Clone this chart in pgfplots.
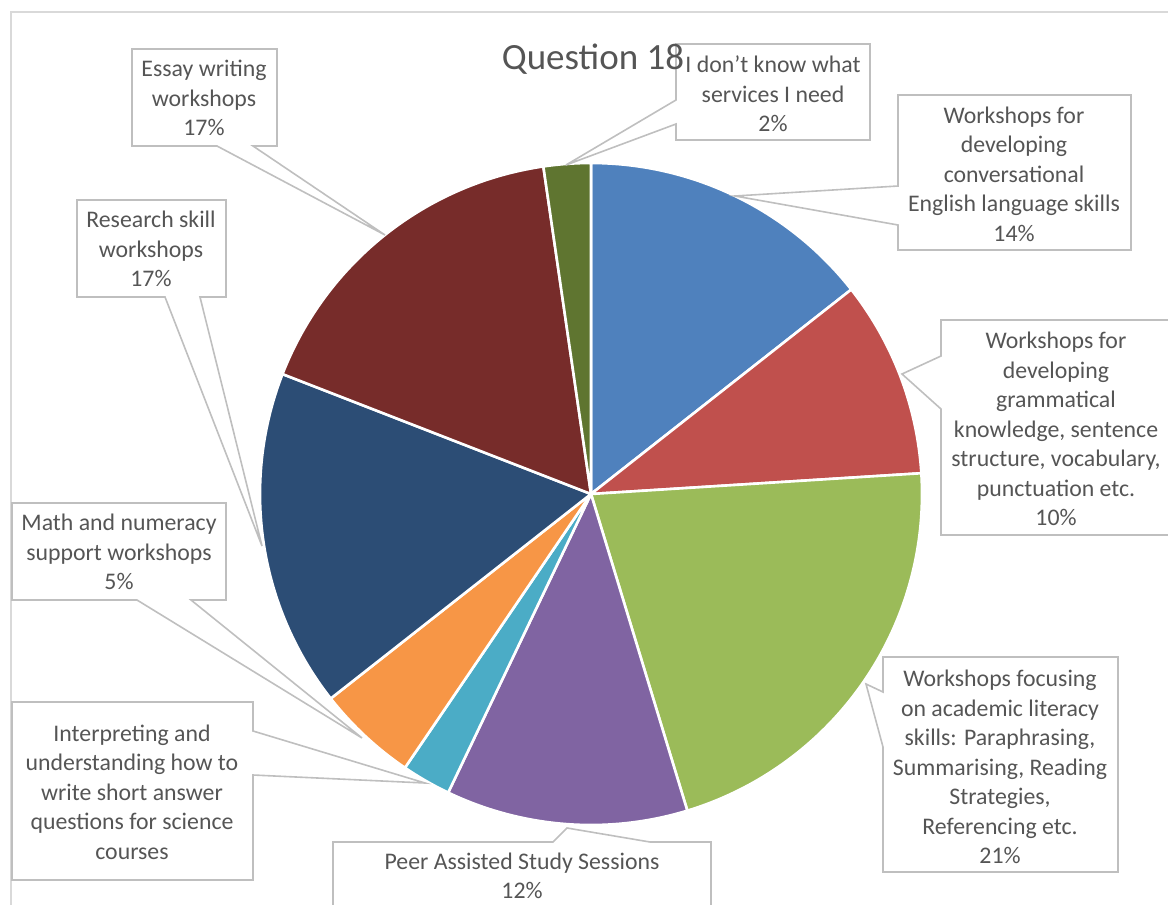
\documentclass[border=0pt]{standalone}
\usepackage{pgfplots}
\usepackage{pgfplotstable}
\pgfplotsset{compat=1.18}
\usepackage{fontspec}
\setmainfont{Carlito}
\definecolor{slice0}{HTML}{4F81BD}
\definecolor{slice1}{HTML}{C0504D}
\definecolor{slice2}{HTML}{9BBB59}
\definecolor{slice3}{HTML}{8064A2}
\definecolor{slice4}{HTML}{4BACC6}
\definecolor{slice5}{HTML}{F79646}
\definecolor{slice6}{HTML}{2C4D75}
\definecolor{slice7}{HTML}{772C2A}
\definecolor{slice8}{HTML}{5F7530}
\definecolor{txt}{HTML}{555555}
\definecolor{boxline}{HTML}{BFBFBF}
\definecolor{frame}{HTML}{D9D9D9}

% shares in percent, clockwise from 12 o'clock
\pgfplotstableread{
share
14.4
9.6
21.3
11.8
2.4
4.9
16.5
16.8
2.3
}\piedata

\begin{document}
\begin{tikzpicture}
\begin{axis}[name=ax, hide axis, scale only axis,
  width=584pt, height=452.5pt,
  xmin=0, xmax=1168, ymin=0, ymax=905, y dir=reverse, clip=false]
\def\angA{90}
\pgfplotsforeachungrouped \i in {0,...,8}{%
  \pgfplotstablegetelem{\i}{share}\of\piedata
  \pgfmathsetmacro\angB{\angA-3.6*\pgfplotsretval}%
  \edef\slicecmd{\noexpand\addplot[fill=slice\i, draw=white, line width=1.3pt, line join=round, domain=\angB:\angA, samples=80] ({591+331*cos(x)},{494-331*sin(x)}) -- (591,494) -- cycle;}%
  \slicecmd
  \global\let\angA\angB
}
% frame
\draw[frame, line width=0.8pt] (11,905) -- (11,12) -- (1168,12);
% callouts
\tikzset{callout/.style={draw=boxline, line width=0.8pt, line join=miter},
  lbl/.style={text=txt, align=center, font=\fontsize{11.9}{14.75}\selectfont, inner sep=0pt}}
\draw[callout] (132,49) -- (277,49) -- (277,146) -- (253,146) -- (385,235) -- (217,146) -- (132,146) -- cycle;
\node[lbl] at (204,98) {Essay writing\\workshops\\17\%};
\draw[callout] (77,200) -- (226,200) -- (226,297) -- (200,297) -- (262,546) -- (165,297) -- (77,297) -- cycle;
\node[lbl] at (151,249) {Research skill\\workshops\\17\%};
\draw[callout] (12,503) -- (226,503) -- (226,600) -- (191,600) -- (362,738) -- (137,600) -- (12,600) -- cycle;
\node[lbl] at (119,552) {Math and numeracy\\support workshops\\5\%};
\draw[callout] (12,702) -- (253,702) -- (253,731) -- (425,783) -- (253,775) -- (253,880) -- (12,880) -- cycle;
\node[lbl] at (132,792) {Interpreting and\\understanding how to\\write short answer\\questions for science\\courses};
\draw[callout] (333,842) -- (553,842) -- (567,828) -- (650,842) -- (711,842) -- (711,930) -- (333,930) -- cycle;
\node[lbl] at (522,876) {Peer Assisted Study Sessions\\12\%};
\draw[callout] (883,657) -- (1118,657) -- (1118,872) -- (883,872) -- (883,747) -- (866,684) -- (883,692) -- cycle;
\node[lbl] at (1000,767) {Workshops focusing\\on academic literacy\\skills: Paraphrasing,\\Summarising, Reading\\Strategies,\\Referencing etc.\\21\%};
\draw[callout] (941,320) -- (1171,320) -- (1171,535) -- (941,535) -- (941,409) -- (902,374) -- (941,356) -- cycle;
\node[lbl] at (1056,429) {Workshops for\\developing\\grammatical\\knowledge, sentence\\structure, vocabulary,\\punctuation etc.\\10\%};
\draw[callout] (898,95) -- (1131,95) -- (1131,250) -- (898,250) -- (898,225) -- (735,196) -- (898,186) -- cycle;
\node[lbl] at (1014,174) {Workshops for\\developing\\conversational\\English language skills\\14\%};
\draw[callout] (676,44) -- (870,44) -- (870,140) -- (676,140) -- (676,124) -- (566,165) -- (676,100) -- cycle;
\node[lbl] at (773,94) {I don’t know what\\services I need\\2\%};
% title
\node[text=txt, anchor=base, font=\fontsize{18.5}{22}\selectfont, inner sep=0pt] at (593,69) {Question 18};
\end{axis}
\pgfresetboundingbox
\path (ax.south west) rectangle (ax.north east);
\end{tikzpicture}
\end{document}
